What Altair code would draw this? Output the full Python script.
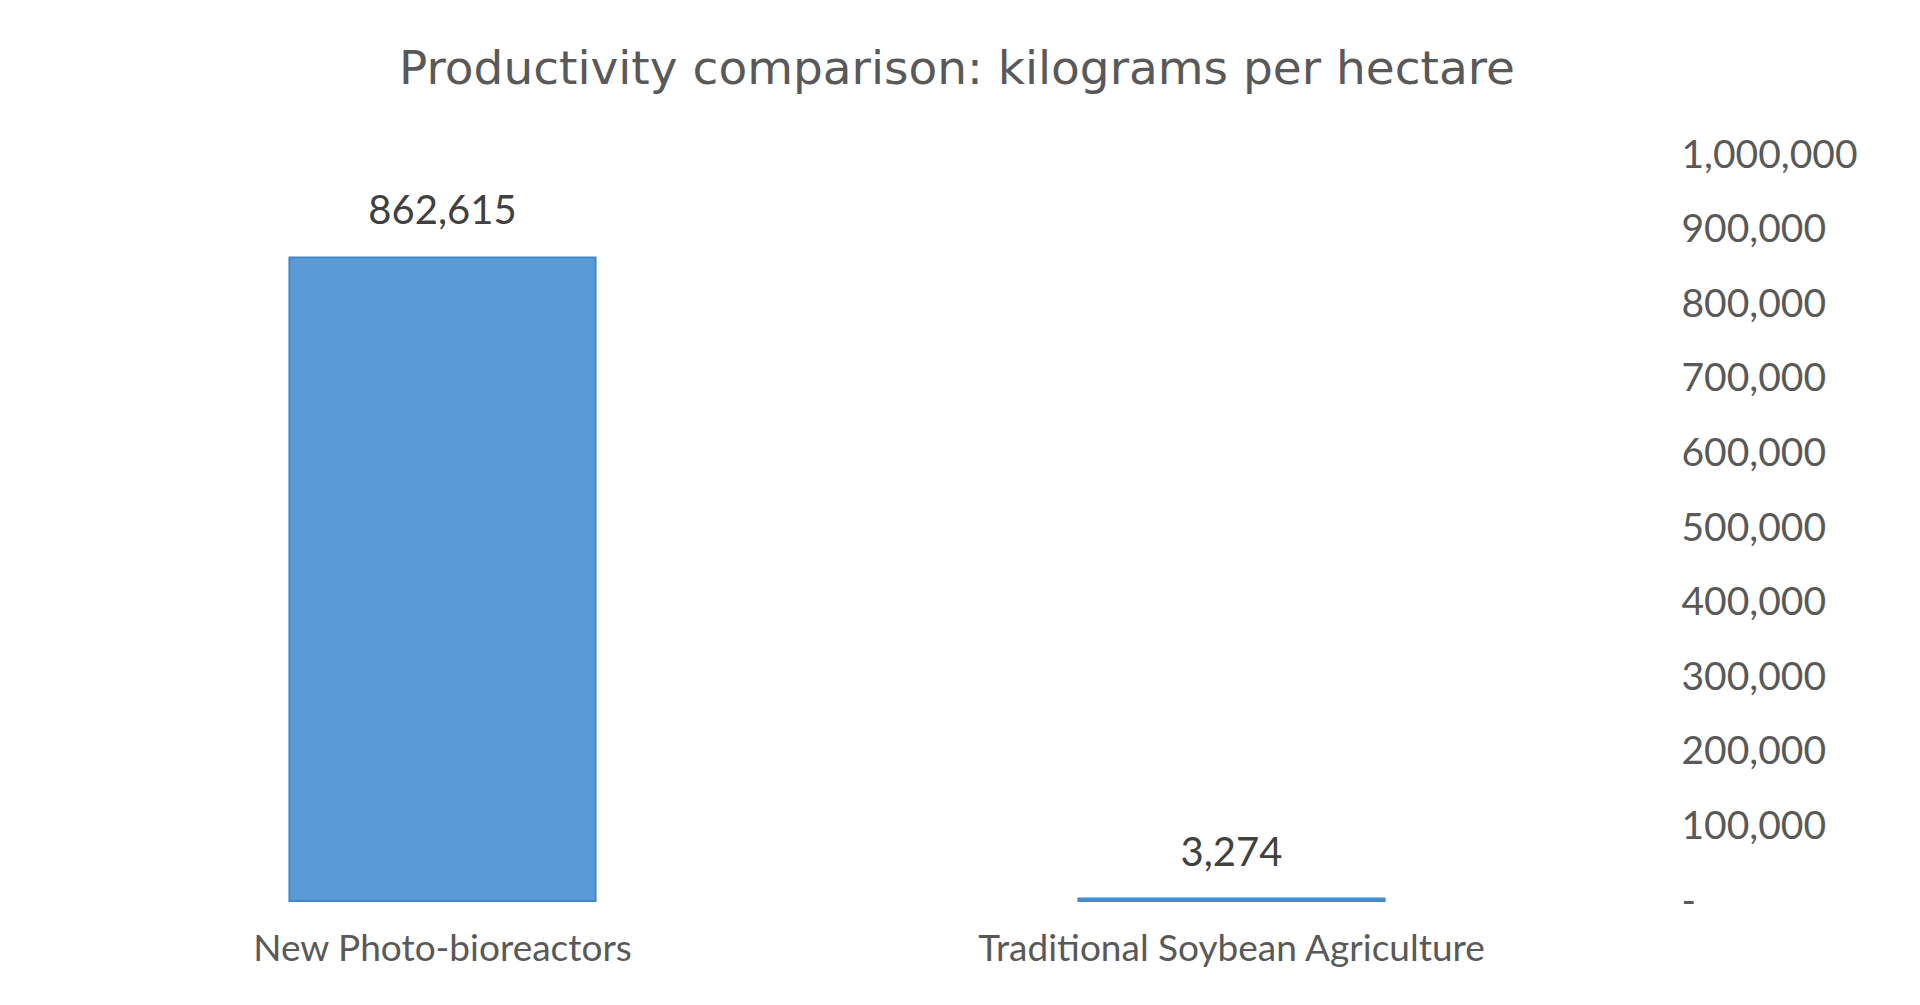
import altair as alt
import pandas as pd

categories = ["New Photo-bioreactors", "Traditional Soybean Agriculture"]
values = [862615, 3274]
labels = ["862,615", "3,274"]
y_ticks = [0, 100000, 200000, 300000, 400000, 500000, 600000, 700000, 800000, 900000, 1000000]

df = pd.DataFrame({"category": categories, "value": values, "label": labels})

FONT = "Lato"

x_enc = alt.X(
    "category:N",
    sort=categories,
    scale=alt.Scale(paddingInner=0.612, paddingOuter=0.306),
    axis=alt.Axis(
        title=None, labelAngle=0, domain=False, ticks=False, grid=False,
        labelFont=FONT, labelFontSize=37, labelColor="#595959",
        labelPadding=30, labelBaseline="top", labelLimit=0,
    ),
)
y_enc = alt.Y(
    "value:Q",
    scale=alt.Scale(domain=[0, 1000000], nice=False),
    axis=alt.Axis(
        title=None, orient="right", values=y_ticks, domain=False, ticks=False, grid=False,
        labelFont=FONT, labelFontSize=39, labelColor="#595959",
        labelAlign="left", labelBaseline="middle", labelPadding=55,
        labelExpr="datum.value == 0 ? '-' : format(datum.value, ',')",
    ),
)

bars = alt.Chart(df).mark_bar(color="#5B9BD5", stroke="#4287C8", strokeWidth=2).encode(
    x=x_enc, y=y_enc
)
text = alt.Chart(df).mark_text(
    font=FONT, fontSize=40, color="#404040", baseline="alphabetic", dy=-33
).encode(x=alt.X("category:N", sort=categories), y="value:Q", text="label:N")

chart = alt.layer(bars, text).properties(
    width=1578,
    height=746,
    title=alt.Title(
        "Productivity comparison: kilograms per hectare",
        font="DejaVu Sans", fontSize=47, fontWeight="normal", color="#595959",
        anchor="middle", offset=42, dx=120,
    ),
    autosize=alt.AutoSizeParams(type="none"),
    padding={"left": 40, "top": 147, "right": 278, "bottom": 90},
).configure_view(stroke=None)

chart.save("out.html", embed_options={"renderer": "svg", "actions": False})
